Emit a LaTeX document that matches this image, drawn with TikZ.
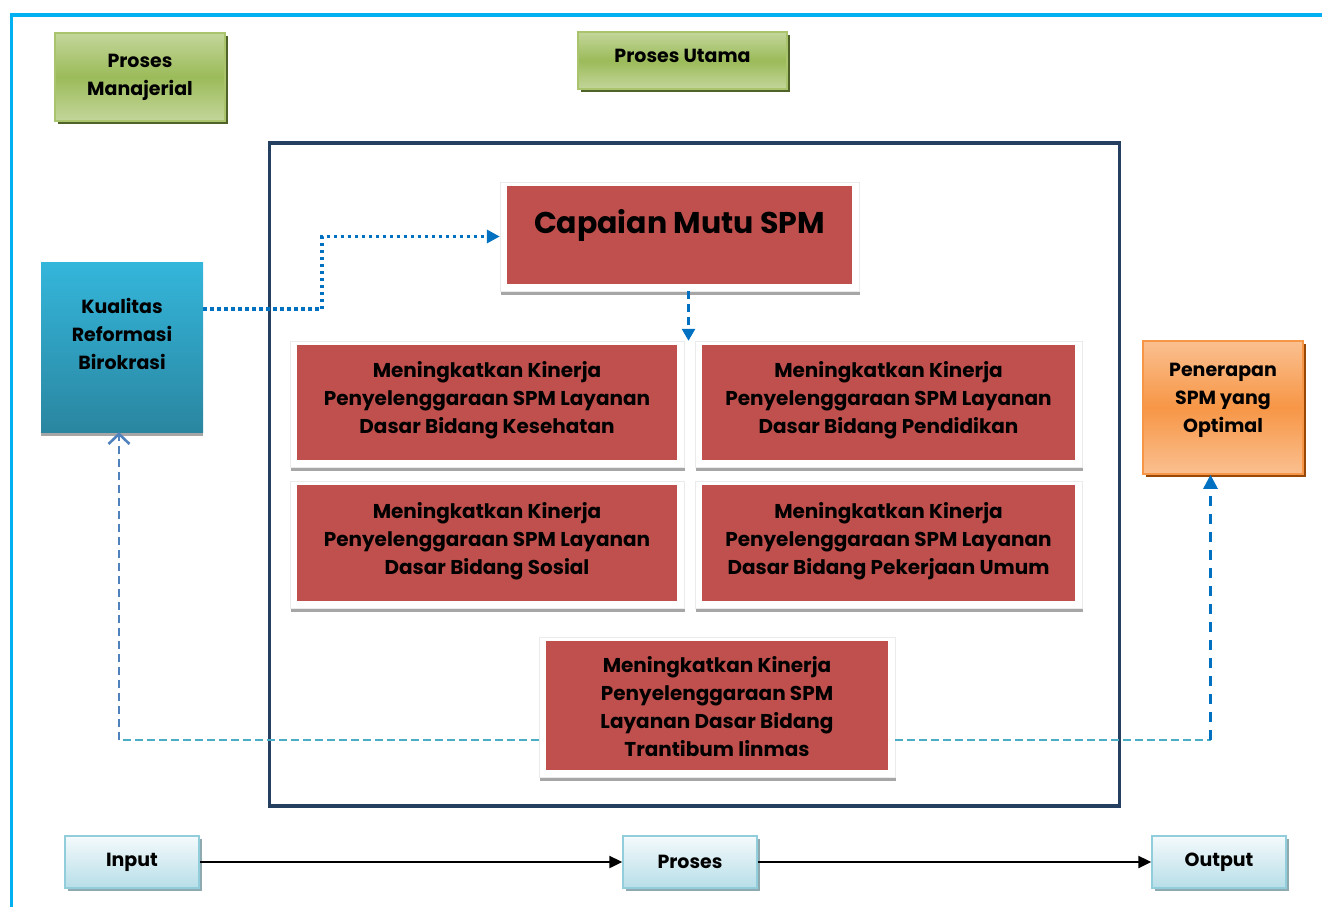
\documentclass[tikz,border=0pt]{standalone}
\usepackage{fontspec}
\setmainfont{Poppins}
\usetikzlibrary{arrows.meta,shadows}

\definecolor{cyanframe}{HTML}{00B0F0}
\definecolor{navyframe}{HTML}{243F60}
\definecolor{redbox}{HTML}{C0504D}
\definecolor{greenlight}{HTML}{C3D69B}
\definecolor{greenmid}{HTML}{9BBB59}
\definecolor{greenline}{HTML}{A9C46C}
\definecolor{greenshadow}{HTML}{4F6228}
\definecolor{orangelight}{HTML}{FAC090}
\definecolor{orangemid}{HTML}{F79646}
\definecolor{orangeshadow}{HTML}{984807}
\definecolor{tealtop}{HTML}{34B6DB}
\definecolor{tealbottom}{HTML}{2A86A0}
\definecolor{icetop}{HTML}{F4FAFC}
\definecolor{icebottom}{HTML}{B7DEE8}
\definecolor{iceline}{HTML}{92CDDC}
\definecolor{iceshadow}{HTML}{8FA9B1}
\definecolor{linkblue}{HTML}{0070C0}
\definecolor{linkaqua}{HTML}{4BACC6}
\definecolor{linksteel}{HTML}{4F81BD}

\begin{document}
\begin{tikzpicture}[x=1pt,y=-1pt,
    boxfont/.style={font=\fontsize{19}{28}\selectfont\bfseries, align=center},
    greenbox/.style={boxfont, draw=greenline, line width=1.5pt,
        top color=greenlight, bottom color=greenlight, middle color=greenmid,
        drop shadow={shadow xshift=3pt, shadow yshift=-3pt, fill=greenshadow, opacity=1}},
    orangebox/.style={boxfont, draw=orangemid, line width=1.5pt,
        top color=orangelight, bottom color=orangelight, middle color=orangemid,
        drop shadow={shadow xshift=3pt, shadow yshift=-3pt, fill=orangeshadow, opacity=1}},
    tealbox/.style={boxfont, top color=tealtop, bottom color=tealbottom,
        drop shadow={shadow xshift=0pt, shadow yshift=-3.5pt, fill=black!35, opacity=1}},
    icebox/.style={boxfont, draw=iceline, line width=1.5pt,
        top color=icetop, bottom color=icebottom,
        drop shadow={shadow xshift=2.5pt, shadow yshift=-3pt, fill=iceshadow, opacity=1}},
    redframe/.style={font=\fontsize{20}{28}\selectfont\bfseries, align=center,
        fill=white, draw=black!8, line width=0.4pt, text depth=13pt,
        drop shadow={shadow xshift=0.5pt, shadow yshift=-4pt, fill=black!35, opacity=1},
        path picture={\fill[redbox] ([shift={(7pt,-4pt)}]path picture bounding box.north west)
            rectangle ([shift={(-7pt,7pt)}]path picture bounding box.south east);}},
    dotlink/.style={draw=linkblue, line width=3.5pt, dash pattern=on 3.5pt off 3.5pt,
        -{Triangle[length=13pt,width=13pt]}},
    dashlink/.style={draw=linkaqua, line width=2.6pt, dash pattern=on 8pt off 4pt},
    bluelink/.style={draw=linkblue, line width=2.6pt, dash pattern=on 10pt off 8pt},
    flowarrow/.style={draw=black, line width=2.4pt, -{Triangle[length=13pt,width=12pt]}}]

    \useasboundingbox (0,0) rectangle (1322,907);

    % outer frame, only top and left show
    \draw[cyanframe, line width=3.4pt] (11.7,907) -- (11.7,15) -- (1322,15);
    \draw[navyframe, line width=3.5pt] (269.5,143) rectangle (1119.5,806);

    \node[greenbox, minimum width=170pt, minimum height=88pt] (manaj) at (140,77) {Proses\\Manajerial};
    \node[greenbox, minimum width=209pt, minimum height=57pt, text depth=9pt] (utama) at (682.5,60.5) {Proses Utama};

    \node[tealbox, minimum width=162pt, minimum height=170pt, text depth=27pt] (kual) at (122,347) {Kualitas\\Reformasi\\Birokrasi};
    \node[orangebox, minimum width=160pt, minimum height=133pt, text depth=19pt] (penr) at (1223,407.5) {Penerapan\\SPM yang\\Optimal};

    \node[redframe, minimum width=359pt, minimum height=109pt, font=\fontsize{30}{36}\selectfont\bfseries,
        text depth=30pt] (cap) at (679.5,236.5) {Capaian Mutu SPM};

    \node[redframe, minimum width=394pt, minimum height=126pt] (kes) at (487,404)
        {Meningkatkan Kinerja\\Penyelenggaraan SPM Layanan\\Dasar Bidang Kesehatan};
    \node[redframe, minimum width=387pt, minimum height=126pt] (pend) at (888.5,404)
        {Meningkatkan Kinerja\\Penyelenggaraan SPM Layanan\\Dasar Bidang Pendidikan};
    \node[redframe, minimum width=394pt, minimum height=127pt] (sos) at (487,544.5)
        {Meningkatkan Kinerja\\Penyelenggaraan SPM Layanan\\Dasar Bidang Sosial};
    \node[redframe, minimum width=387pt, minimum height=127pt] (pu) at (888.5,544.5)
        {Meningkatkan Kinerja\\Penyelenggaraan SPM Layanan\\Dasar Bidang Pekerjaan Umum};
    \node[redframe, minimum width=356pt, minimum height=140pt, text depth=1pt] (tr) at (717,707)
        {Meningkatkan Kinerja\\Penyelenggaraan SPM\\Layanan Dasar Bidang\\Trantibum linmas};

    \node[icebox, minimum width=134pt, minimum height=52pt] (input) at (132,862) {Input};
    \node[icebox, minimum width=134pt, minimum height=52pt] (proses) at (690,862) {Proses};
    \node[icebox, minimum width=134pt, minimum height=52pt] (output) at (1219,862) {Output};

    \coordinate (cornerL) at (119,740);
    \coordinate (cornerR) at (1210.5,740);

    \draw[dotlink] ([yshift=38pt]kual.east) -- ++(119,0) |- (cap.west);
    \draw[bluelink, dash pattern=on 8pt off 5pt, -{Triangle[length=12pt,width=13pt]}]
        ([xshift=9pt]cap.south) -- ([xshift=9pt]cap.south |- kes.north);

    \draw[dashlink] (tr.west |- cornerL) -- (cornerL);
    \draw[draw=linksteel, line width=2.6pt, dash pattern=on 8pt off 5pt,
        -{Straight Barb[length=10pt,width=21pt,line width=2.6pt]}] (cornerL) -- (cornerL |- kual.south);
    \draw[dashlink] (tr.east |- cornerR) -- (cornerR);
    \draw[bluelink, -{Triangle[length=14pt,width=14pt]}] (cornerR) -- (cornerR |- penr.south);

    \draw[flowarrow] (input.east) -- (proses.west);
    \draw[flowarrow] (proses.east) -- (output.west);
\end{tikzpicture}
\end{document}
